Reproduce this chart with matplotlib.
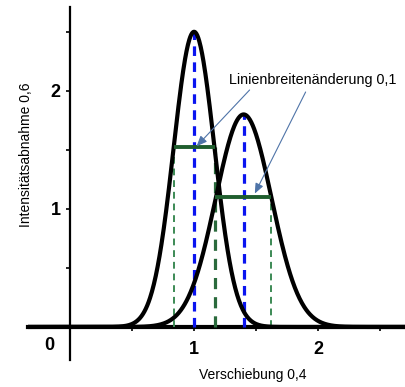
import numpy as np
import matplotlib
matplotlib.use("Agg")
import matplotlib.pyplot as plt

plt.rcParams['font.family'] = ['Liberation Sans', 'DejaVu Sans']

# Peak parameters
peak_centers = [1.0, 1.4]
peak_heights = [2.5, 1.8]
peak_sigmas = [0.165, 0.225]
# Linewidth markers (green bars)
width_levels = [1.52, 1.10]
width_left = [0.84, 1.17]
width_right = [1.17, 1.62]

x_ticks = [0.5, 1, 1.5, 2, 2.5]
x_ticklabels = ['', '1', '', '2', '']
y_ticks = [0.5, 1, 1.5, 2, 2.5]
y_ticklabels = ['', '1', '', '2', '']

xlabel = 'Verschiebung 0,4'
ylabel = 'Intensitätsabnahme 0,6'
note = 'Linienbreitenänderung 0,1'

fig = plt.figure(figsize=(4.06, 3.87), dpi=100)
ax = fig.add_axes([28/406, 1-360/387, 1-28/406, (360-7)/387])
ax.set_xlim(-0.34, 2.71)
ax.set_ylim(-0.28, 2.71)

xs = np.linspace(-0.34, 2.71, 800)
for c, h, s in zip(peak_centers, peak_heights, peak_sigmas):
    ax.plot(xs, h*np.exp(-(xs-c)**2/(2*s**2)), color='black', lw=3, zorder=4,
            solid_capstyle='butt')

# green dashed verticals
light_green = '#3c8a55'
dark_green = '#2a6a3c'
ax.plot([width_left[0]]*2, [0, width_levels[0]], ls=(0, (3.5, 2.5)), color=light_green, lw=1.4, zorder=2)
ax.plot([width_right[0]]*2, [0, width_levels[0]], ls=(0, (3.5, 2.5)), color=dark_green, lw=2.3, zorder=2)
ax.plot([width_right[1]]*2, [0, width_levels[1]], ls=(0, (3.5, 2.5)), color=light_green, lw=1.4, zorder=2)

# blue dashed center lines
for c, h in zip(peak_centers, peak_heights):
    ax.plot([c, c], [0, h], ls=(0, (3, 2)), color='#0a14f0', lw=2.3, zorder=3)

# green horizontal bars
for lvl, l, r in zip(width_levels, width_left, width_right):
    ax.plot([l, r], [lvl, lvl], color='#1f5e2e', lw=2.8, zorder=5, solid_capstyle='butt')

# spines
for sp in ['top', 'right']:
    ax.spines[sp].set_visible(False)
ax.spines['left'].set_position(('data', 0))
ax.spines['bottom'].set_position(('data', 0))
ax.spines['left'].set_linewidth(1.6)
ax.spines['bottom'].set_linewidth(3)
ax.spines['bottom'].set_zorder(1)

ax.set_xticks(x_ticks)
ax.set_xticklabels(x_ticklabels, fontsize=13, fontweight='bold')
ax.set_yticks(y_ticks)
ax.set_yticklabels(y_ticklabels, fontsize=13, fontweight='bold')
ax.tick_params(axis='x', direction='out', length=3, width=1.2, pad=7)
ax.tick_params(axis='y', direction='out', length=3, width=1.2, pad=4)
ax.text(-0.165, -0.16, '0', fontsize=13, fontweight='bold', ha='center', va='center')

fig.text(253/406, 1-375/387, xlabel, fontsize=10, ha='center', va='center')
fig.text(26/406, 1-155/387, ylabel, fontsize=10, ha='center', va='center', rotation=90)

arrow_kw = dict(arrowstyle='-|>,head_length=0.6,head_width=0.25', color='#4f74a8', lw=0.8,
                shrinkA=0, shrinkB=0)
ax.annotate(note, xy=(1.02, 1.53), xytext=(1.28, 2.09), fontsize=10.4, ha='left', va='center',
            arrowprops=dict(arrow_kw, relpos=(0.14, 0.0)), zorder=6)
ax.annotate('', xy=(1.49, 1.13), xytext=(1.90, 1.99), arrowprops=arrow_kw, zorder=6)

fig.savefig('out.png', dpi=100)
